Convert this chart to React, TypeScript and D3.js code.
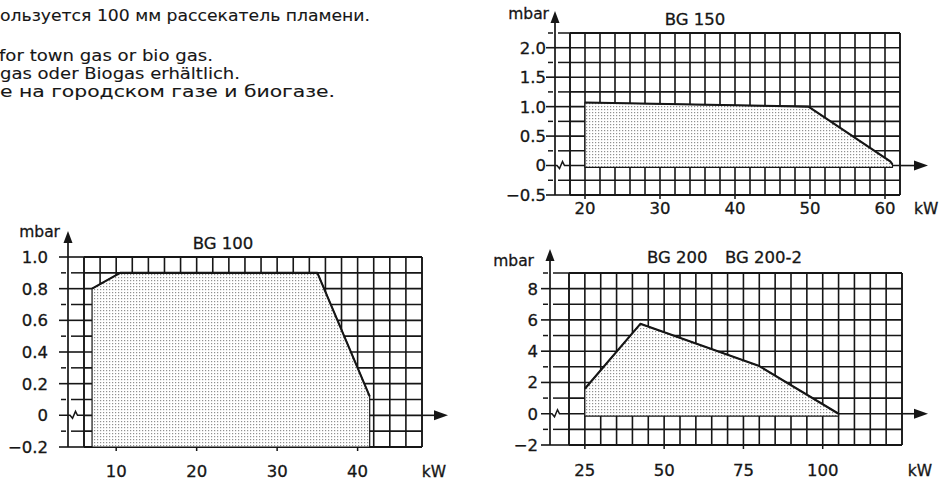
import React from "react";
import * as d3 from "d3";

// ---------- data ----------
const textLines = [
  "ользуется 100 мм рассекатель пламени.",
  "for town gas or bio gas.",
  "gas oder Biogas erhältlich.",
  "е на городском газе и биогазе.",
];

const bg150XTicks = [20, 30, 40, 50, 60];
const bg150YTicks = [-0.5, 0, 0.5, 1.0, 1.5, 2.0];
const bg150Area: [number, number][] = [
  [20, -0.03], [20, 1.07], [49.8, 1.0], [60.7, 0.07], [61, 0.02], [61, -0.03],
];

const bg100XTicks = [10, 20, 30, 40];
const bg100YTicks = [-0.2, 0, 0.2, 0.4, 0.6, 0.8, 1.0];
const bg100Area: [number, number][] = [
  [7, -0.2], [7, 0.8], [10.5, 0.9], [35, 0.9], [41.5, 0.12], [41.5, -0.2],
];

const bg200XTicks = [25, 50, 75, 100];
const bg200YTicks = [-2, 0, 2, 4, 6, 8];
const bg200Area: [number, number][] = [
  [25, -0.15], [25, 1.6], [42.5, 5.75], [80, 3.05], [105, 0], [105, -0.15],
];

const FONT = "'DejaVu Sans', 'Liberation Sans', Arial, sans-serif";
const INK = "#161616";

type Cfg = {
  id: string;
  xDomain: [number, number];
  xRange: [number, number];
  xStep: number;
  yDomain: [number, number];
  yRange: [number, number];
  yStep: number;
  xTicks: number[];
  yTicks: number[];
  yFmt: (v: number) => string;
  area: [number, number][];
  axisX: number;
  arrowTop: number;
  arrowRight: number;
  labelRight: number;
  mbar: [number, number];
  titles: { text: string; x: number; y: number; anchor: string }[];
  xLabelY: number;
  kw: [number, number, string];
};

function Chart({ c }: { c: Cfg }) {
  const x = d3.scaleLinear().domain(c.xDomain).range(c.xRange);
  const y = d3.scaleLinear().domain(c.yDomain).range(c.yRange);
  const nx = Math.round((c.xDomain[1] - c.xDomain[0]) / c.xStep);
  const ny = Math.round((c.yDomain[1] - c.yDomain[0]) / c.yStep);
  const gx = d3.range(nx + 1).map((i) => c.xDomain[0] + i * c.xStep);
  const gy = d3.range(ny + 1).map((i) => c.yDomain[0] + i * c.yStep);
  const [L, R] = c.xRange;
  const [B, T] = c.yRange;
  const line = d3.line<[number, number]>().x((d) => x(d[0])).y((d) => y(d[1]));
  const areaPath = line(c.area) + "Z";
  const isMajor = (v: number) => c.yTicks.some((t) => Math.abs(t - v) < 1e-6);
  const y0 = y(0);
  const ax = c.axisX;
  return (
    <g>
      {gx.map((v, i) => (
        <line key={"gx" + i} x1={x(v)} x2={x(v)} y1={T} y2={B} stroke={INK} strokeWidth={i === 0 || i === nx ? 1.9 : 1.6} />
      ))}
      {gy.map((v, i) => (
        <line key={"gy" + i} x1={L} x2={R} y1={y(v)} y2={y(v)} stroke={INK} strokeWidth={i === 0 || i === ny ? 1.9 : 1.6} />
      ))}
      <path d={areaPath} fill={`url(#dots)`} stroke={INK} strokeWidth={1.2} strokeLinejoin="round" />
      <path d={line(c.area.slice(1, c.area.length - 1)) || ""} fill="none" stroke={INK} strokeWidth={2.1} strokeLinejoin="round" />
      <line x1={ax} x2={ax} y1={B} y2={c.arrowTop + 8} stroke={INK} strokeWidth={1.7} />
      <path d={`M${ax},${c.arrowTop} L${ax - 4.5},${c.arrowTop + 12} L${ax + 4.5},${c.arrowTop + 12} Z`} fill={INK} />
      {gy.map((v, i) =>
        Math.abs(v) < 1e-6 ? null : isMajor(v) ? (
          <line key={"ty" + i} x1={ax - 9} x2={L} y1={y(v)} y2={y(v)} stroke={INK} strokeWidth={1.6} />
        ) : (
          <g key={"ty" + i}>
            <line x1={ax - 7} x2={ax - 2} y1={y(v)} y2={y(v)} stroke={INK} strokeWidth={1.5} />
            <line x1={ax + 3} x2={L} y1={y(v)} y2={y(v)} stroke={INK} strokeWidth={1.5} />
          </g>
        )
      )}
      <path
        d={`M${ax - 9},${y0} L${ax + 2},${y0} L${ax + 4.5},${y0 + 3} L${ax + 7.5},${y0 - 4} L${ax + 9.5},${y0} L${L},${y0}`}
        fill="none" stroke={INK} strokeWidth={1.5}
      />
      <line x1={R} x2={c.arrowRight - 8} y1={y0} y2={y0} stroke={INK} strokeWidth={1.6} />
      <path d={`M${c.arrowRight},${y0} L${c.arrowRight - 14},${y0 - 5} L${c.arrowRight - 14},${y0 + 5} Z`} fill={INK} />
      {c.xTicks.map((v) => (
        <line key={"tx" + v} x1={x(v)} x2={x(v)} y1={B} y2={B + 4} stroke={INK} strokeWidth={1.5} />
      ))}
      <g fontFamily={FONT} fill={INK} stroke={INK} strokeWidth={0.3} fontSize={16.5}>
        {c.yTicks.map((v) => (
          <text key={"ly" + v} x={c.labelRight} y={y(v)} dy="0.36em" textAnchor="end">
            {c.yFmt(v)}
          </text>
        ))}
        {c.xTicks.map((v) => (
          <text key={"lx" + v} x={x(v)} y={c.xLabelY} textAnchor="middle">
            {String(v)}
          </text>
        ))}
        {c.titles.map((t) => (
          <text key={t.text} x={t.x} y={t.y} textAnchor={t.anchor}>
            {t.text}
          </text>
        ))}
        <text x={c.mbar[0]} y={c.mbar[1]} textAnchor="end" fontSize={15.5}>mbar</text>
        <text x={c.kw[0]} y={c.kw[1]} textAnchor={c.kw[2]} fontSize={15.5}>kW</text>
      </g>
    </g>
  );
}

const fmt1 = (v: number) => (Math.abs(v) < 1e-9 ? "0" : d3.format(".1f")(v));
const fmt0 = (v: number) => d3.format("d")(v);

const charts: Cfg[] = [
  {
    id: "bg150",
    xDomain: [18, 62], xRange: [570, 900], xStep: 2,
    yDomain: [-0.5, 2.25], yRange: [195, 33], yStep: 0.25,
    xTicks: bg150XTicks, yTicks: bg150YTicks, yFmt: fmt1, area: bg150Area,
    axisX: 555, arrowTop: 11, arrowRight: 928, labelRight: 546,
    mbar: [549, 19],
    titles: [{ text: "BG 150", x: 695, y: 25, anchor: "middle" }],
    xLabelY: 214, kw: [914, 214, "start"],
  },
  {
    id: "bg100",
    xDomain: [6, 48], xRange: [84, 422], xStep: 2,
    yDomain: [-0.2, 1.0], yRange: [447, 257], yStep: 0.1,
    xTicks: bg100XTicks, yTicks: bg100YTicks, yFmt: fmt1, area: bg100Area,
    axisX: 68, arrowTop: 231, arrowRight: 448, labelRight: 48,
    mbar: [60, 237],
    titles: [{ text: "BG 100", x: 223, y: 249, anchor: "middle" }],
    xLabelY: 477, kw: [434, 477, "middle"],
  },
  {
    id: "bg200",
    xDomain: [20, 125], xRange: [569, 902], xStep: 5,
    yDomain: [-2, 9], yRange: [445, 273], yStep: 1,
    xTicks: bg200XTicks, yTicks: bg200YTicks, yFmt: fmt0, area: bg200Area,
    axisX: 550, arrowTop: 249, arrowRight: 928, labelRight: 538,
    mbar: [534, 266],
    titles: [
      { text: "BG 200", x: 647, y: 263, anchor: "start" },
      { text: "BG 200-2", x: 725, y: 263, anchor: "start" },
    ],
    xLabelY: 476, kw: [920, 476, "middle"],
  },
];

const textPos: [number, number, number][] = [
  [0, 21, 370],
  [-1, 61, 214],
  [0, 79, 240],
  [0, 97, 335],
];

export default function App() {
  return (
    <svg
      width={940}
      height={482}
      viewBox="0 0 940 482"
      style={{ position: "absolute", left: 0, top: 0, background: "#fff" }}
    >
      <defs>
        <pattern id="dots" width={3} height={3} patternUnits="userSpaceOnUse">
          <rect width={3} height={3} fill="#fff" />
          <rect x={1} y={1} width={1.2} height={1.2} fill="#909090" />
        </pattern>
      </defs>
      <rect width={940} height={482} fill="#fff" />
      <g fontFamily={FONT} fontSize={16} fill={INK} stroke={INK} strokeWidth={0.1}>
        {textLines.map((t, i) => (
          <text key={i} x={textPos[i][0]} y={textPos[i][1]} textLength={textPos[i][2]} lengthAdjust="spacingAndGlyphs">
            {t}
          </text>
        ))}
      </g>
      {charts.map((c) => (
        <Chart key={c.id} c={c} />
      ))}
    </svg>
  );
}
